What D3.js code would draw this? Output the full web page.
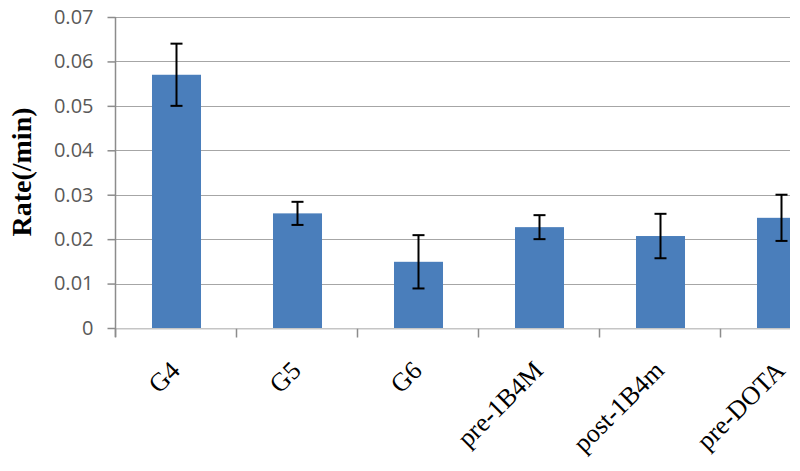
<!DOCTYPE html>
<html>
<head>
<meta charset="utf-8">
<script src="https://cdn.jsdelivr.net/npm/d3@7"></script>
<style>
  html, body { margin: 0; padding: 0; background: #fff; }
  svg { display: block; }
</style>
</head>
<body>
<div id="chart"></div>
<script>
// data
const categories = ["G4", "G5", "G6", "pre-1B4M", "post-1B4m", "pre-DOTA"];
const rates = [0.057, 0.0258, 0.0149, 0.0227, 0.0207, 0.0248];
const errors = [0.007, 0.0026, 0.006, 0.0027, 0.005, 0.0052];
const yTicks = [0, 0.01, 0.02, 0.03, 0.04, 0.05, 0.06, 0.07];

const width = 800;
const height = 471;
// the plot runs past the right edge of the picture, which cuts it at 790
const plotLeft = 115, plotRight = 841, plotTop = 17, plotBottom = 328, clipRight = 790;

const svg = d3.select("#chart")
  .append("svg")
  .attr("width", width)
  .attr("height", height);

svg.append("clipPath").attr("id", "plotclip")
  .append("rect")
  .attr("x", 0).attr("y", 0)
  .attr("width", clipRight).attr("height", height);

const x = d3.scaleBand().domain(categories).range([plotLeft, plotRight]);
const y = d3.scaleLinear().domain([0, 0.07]).range([plotBottom, plotTop]);
const barW = x.bandwidth() * 0.405;
const cx = d => x(d) + x.bandwidth() / 2 + 1;

const plot = svg.append("g").attr("clip-path", "url(#plotclip)");

// gridlines
plot.selectAll("line.grid")
  .data(yTicks.slice(1))
  .enter()
  .append("line")
  .attr("class", "grid")
  .attr("x1", plotLeft).attr("x2", plotRight)
  .attr("y1", d => Math.round(y(d)) + 0.5)
  .attr("y2", d => Math.round(y(d)) + 0.5)
  .attr("stroke", "#a6a6a6")
  .attr("stroke-width", 1.2);

// bars
plot.selectAll("rect.bar")
  .data(categories)
  .enter()
  .append("rect")
  .attr("class", "bar")
  .attr("x", d => cx(d) - barW / 2)
  .attr("width", barW)
  .attr("y", (d, i) => y(rates[i]))
  .attr("height", (d, i) => y(0) - y(rates[i]))
  .attr("fill", "#4a7ebb");

// error bars
const err = plot.selectAll("g.err")
  .data(categories)
  .enter()
  .append("g")
  .attr("class", "err")
  .attr("stroke", "#000")
  .attr("stroke-width", 2);

err.append("line")
  .attr("x1", cx).attr("x2", cx)
  .attr("y1", (d, i) => y(rates[i] + errors[i]))
  .attr("y2", (d, i) => y(rates[i] - errors[i]));
err.append("line")
  .attr("x1", d => cx(d) - 6).attr("x2", d => cx(d) + 6)
  .attr("y1", (d, i) => y(rates[i] + errors[i]))
  .attr("y2", (d, i) => y(rates[i] + errors[i]));
err.append("line")
  .attr("x1", d => cx(d) - 6).attr("x2", d => cx(d) + 6)
  .attr("y1", (d, i) => y(rates[i] - errors[i]))
  .attr("y2", (d, i) => y(rates[i] - errors[i]));

// y axis
const yAxis = svg.append("g")
  .attr("transform", `translate(${plotLeft + 0.5},0)`)
  .call(d3.axisLeft(y).tickValues(yTicks).tickSize(8).tickPadding(14)
    .tickFormat(d => d === 0 ? "0" : d3.format(".2f")(d)));
yAxis.select(".domain").attr("stroke", "#8c8c8c").attr("stroke-width", 1.5)
  .attr("d", `M0,${plotTop}V${plotBottom + 9}`);
yAxis.selectAll(".tick line").attr("stroke", "#8c8c8c").attr("stroke-width", 1.5);
yAxis.selectAll(".tick text")
  .style("font-family", "'Open Sans', sans-serif")
  .style("font-size", "20px")
  .attr("fill", "#595959");

// x axis
const xAxis = svg.append("g")
  .attr("transform", `translate(0,${plotBottom + 0.5})`)
  .attr("clip-path", "url(#plotclip)");
xAxis.append("line")
  .attr("x1", plotLeft).attr("x2", plotRight)
  .attr("stroke", "#8c8c8c").attr("stroke-width", 1.5);
xAxis.selectAll("line.xtick")
  .data(categories)
  .enter()
  .append("line")
  .attr("class", "xtick")
  .attr("x1", d => x(d) + 0.5).attr("x2", d => x(d) + 0.5)
  .attr("y1", 0).attr("y2", 9)
  .attr("stroke", "#8c8c8c").attr("stroke-width", 1.5);

svg.selectAll("text.xlabel")
  .data(categories)
  .enter()
  .append("text")
  .attr("class", "xlabel")
  .attr("transform", d => `translate(${x(d) + x.bandwidth() / 2 + 6},372) rotate(-45)`)
  .attr("text-anchor", "end")
  .style("font-family", "'Liberation Serif', 'Times New Roman', serif")
  .style("font-size", "26px")
  .attr("fill", "#000")
  .text(d => d);

// y axis title
svg.append("text")
  .attr("transform", "translate(31,172) rotate(-90)")
  .attr("text-anchor", "middle")
  .style("font-family", "'Liberation Serif', 'Times New Roman', serif")
  .style("font-size", "28px")
  .style("font-weight", "bold")
  .attr("fill", "#000")
  .text("Rate(/min)");
</script>
</body>
</html>
